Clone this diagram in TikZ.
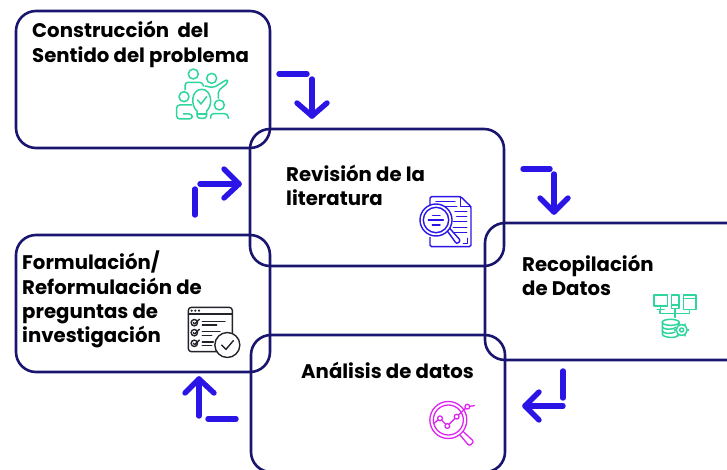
\documentclass[tikz,border=0pt]{standalone}
\usepackage{fontspec}
\setmainfont{Poppins}[BoldFont=* Bold]
\definecolor{boxblue}{HTML}{1A1670}
\definecolor{arrowblue}{HTML}{2A14E6}
\definecolor{teal}{HTML}{2ED69C}
\definecolor{mag}{HTML}{DE24F2}
\definecolor{icondark}{HTML}{23232B}
\tikzset{
  boxnode/.style={draw=boxblue,line width=2.6pt,rounded corners=20pt,minimum width=#1,inner sep=0pt,outer sep=0pt,minimum height=137pt,anchor=north west},
  lab/.style={anchor=base west,inner sep=0pt,font=\bfseries\fontsize{19.7}{22}\selectfont,text=black},
  flow/.style={draw=arrowblue,line width=5.4pt,line cap=round,line join=round},
  tealic/.style={draw=teal,line width=1.5pt,line join=round,line cap=round},
  blueic/.style={draw=arrowblue,line width=1.4pt,line join=round,line cap=round},
  darkic/.style={draw=icondark,line width=1.4pt,line join=round,line cap=round},
  magic/.style={draw=mag,line width=1.3pt,line join=round,line cap=round},
}
\begin{document}
\begin{tikzpicture}[x=1pt,y=-1pt]
\useasboundingbox (0,0) rectangle (727,470);
\clip (0,0) rectangle (727,470);
% boxes
\node[boxnode=254pt] (boxA) at (16,11) {};
\node[boxnode=254pt] (boxB) at (250,129) {};
\node[boxnode=270pt] (boxC) at (485,223) {};
\node[boxnode=254pt] (boxD) at (251,335) {};
\node[boxnode=254pt] (boxE) at (16,235) {};
% text
\node[lab] (t1) at (32,38) {Construcción\ \ del};
\node[lab] (t2) at (32,63) {Sentido del problema};
\node[lab] (t3) at (286,182) {Revisión de la};
\node[lab] (t4) at (286,206) {literatura};
\node[lab] (t5) at (522,271) {Recopilación};
\node[lab] (t6) at (522,295) {de Datos};
\node[lab] (t7) at (301,378) {Análisis de datos};
\node[lab] (t8) at (22,269) {Formulación/};
\node[lab] (t9) at (22,294) {Reformulación de};
\node[lab] (t10) at (22,318) {preguntas de};
\node[lab] (t11) at (22,342) {investigación};
% arrows
\coordinate (a1) at (279,74); \coordinate (a2) at (307,74);
\coordinate (a3) at (312,79); \coordinate (a4) at (312,116);
\coordinate (a5) at (297,103); \coordinate (a6) at (327,103);
\draw[flow] (a1)--(a2); \draw[flow] (a3)--(a4); \draw[flow] (a5)--(a4)--(a6);
\coordinate (b1) at (523,169); \coordinate (b2) at (550,169);
\coordinate (b3) at (554,174); \coordinate (b4) at (554,212);
\coordinate (b5) at (540,198); \coordinate (b6) at (568,198);
\draw[flow] (b1)--(b2); \draw[flow] (b3)--(b4); \draw[flow] (b5)--(b4)--(b6);
\coordinate (c1) at (563,371); \coordinate (c2) at (563,398);
\coordinate (c3) at (563,406); \coordinate (c4) at (525,406);
\coordinate (c5) at (539,392); \coordinate (c6) at (539,420);
\draw[flow] (c1)--(c2); \draw[flow] (c3)--(c4); \draw[flow] (c5)--(c4)--(c6);
\coordinate (d1) at (236,419); \coordinate (d2) at (208,419);
\coordinate (d3) at (199,416); \coordinate (d4) at (199,379);
\coordinate (d5) at (185,393); \coordinate (d6) at (214,393);
\draw[flow] (d1)--(d2); \draw[flow] (d3)--(d4); \draw[flow] (d5)--(d4)--(d6);
\coordinate (e1) at (195,215); \coordinate (e2) at (195,189);
\coordinate (e3) at (200,184); \coordinate (e4) at (239,184);
\coordinate (e5) at (224,169); \coordinate (e6) at (224,198);
\draw[flow] (e1)--(e2); \draw[flow] (e3)--(e4); \draw[flow] (e5)--(e4)--(e6);
% icon A: team and idea
\begin{scope}[shift={(150,50)},x=1/3*1pt,y=-1/3*1pt]
\draw[tealic] (130,72) circle[radius=15pt/3];
\draw[tealic] (185,85) circle[radius=15pt/3];
\draw[tealic] (102,140) circle[radius=15pt/3];
\draw[tealic] (208,165) circle[radius=15pt/3];
\draw[tealic,rounded corners=3pt] (105,120)--(105,97)--(158,97)--(160,108);
\draw[tealic,rounded corners=2pt] (165,108)--(190,113)--(232,88)--(234,98)--(205,122)--(205,145);
\draw[tealic,rounded corners=3pt] (125,165)--(80,165)--(80,207)--(127,207)--(127,192)--(100,192);
\draw[tealic] (141,183) .. controls (120,165) and (125,118) .. (155,118) .. controls (185,118) and (190,165) .. (170,183) -- (170,198) .. controls (170,208) and (141,208) .. (141,198) -- cycle;
\draw[tealic] (141,192)--(170,192);
\draw[tealic] (143,150)--(153,162)--(170,140);
\draw[tealic,rounded corners=3pt] (182,205)--(182,191)--(233,191)--(235,205);
\end{scope}
% icon B: document and magnifier
\begin{scope}[shift={(400,150)},x=1/3*1pt,y=-1/3*1pt]
\draw[blueic,rounded corners=1.5pt] (90,165)--(90,140)--(182,140)--(213,170)--(213,290)--(90,290)--(90,262);
\draw[blueic] (182,140)--(182,170)--(213,170);
\draw[blueic] (108,155)--(165,155);
\draw[blueic] (130,170)--(170,170);
\draw[blueic] (165,185)--(200,185);
\draw[blueic] (170,200)--(200,200);
\draw[blueic] (160,215)--(200,215);
\draw[blueic] (160,232)--(200,232);
\draw[blueic] (160,248)--(200,248);
\draw[blueic] (190,280)--(203,280)--(203,265);
\draw[blueic,fill=white] (108,210) circle[radius=16pt];
\draw[blueic] (108,210) circle[radius=12.7pt];
\draw[blueic] (98,197)--(120,197);
\draw[blueic] (85,210)--(130,210);
\draw[blueic] (97,225)--(120,225);
\draw[blueic,rounded corners=2pt] (142,243)--(170,282)--(182,272)--(150,236);
\end{scope}
% icon E: checklist
\begin{scope}[shift={(170,290)},x=1/3*1pt,y=-1/3*1pt]
\draw[darkic,rounded corners=3pt] (55,52) rectangle (187,185);
\draw[darkic] (55,72)--(187,72);
\fill[icondark] (65,62) circle[radius=1.2pt] (76,62) circle[radius=1.2pt] (87,62) circle[radius=1.2pt];
\foreach \yy in {98,128,160}{
  \draw[darkic] (73,\yy) circle[radius=3.2pt];
  \draw[darkic] (70,\yy)--(74,\yy+4)--(88,\yy-10);
}
\draw[darkic] (97,94)--(165,94);
\draw[darkic] (97,105)--(140,105);
\draw[darkic] (97,124)--(150,124);
\draw[darkic] (97,136)--(125,136);
\draw[darkic] (97,156)--(130,156);
\draw[darkic] (97,167)--(125,167);
\draw[darkic,fill=white] (172,165) circle[radius=12.5pt];
\draw[darkic] (155,165)--(168,178)--(190,152);
\end{scope}
% icon D: magnifier with chart
\begin{scope}[shift={(410,360)},x=1/3*1pt,y=-1/3*1pt]
\draw[magic] (115,180) circle[radius=18.5pt];
\draw[magic] (115,180) circle[radius=15pt];
\draw[magic,rounded corners=2pt] (150,225)--(178,258)--(192,245)--(160,215);
\draw[magic] (90,175)--(112,198)--(140,170)--(172,140)--(193,137);
\draw[magic] (72,190)--(90,175);
\foreach \p in {(90,175),(112,198),(140,170),(172,140)}{
  \draw[magic,fill=white] \p circle[radius=2.4pt];
}
\end{scope}
% icon C: devices and database
\begin{scope}[shift={(640,280)},x=1/3*1pt,y=-1/3*1pt]
\draw[tealic] (42,45) rectangle (82,78);
\draw[tealic] (62,78)--(62,88) (52,88)--(72,88);
\draw[tealic] (95,45) rectangle (117,85);
\draw[tealic] (95,75)--(117,75);
\draw[tealic] (130,45) rectangle (168,88);
\draw[tealic] (130,56)--(168,56);
\draw[tealic] (60,92)--(60,100)--(148,100)--(148,92);
\draw[tealic] (105,88)--(105,112);
\draw[tealic] (92,127) ellipse[x radius=8.5pt,y radius=3pt];
\draw[tealic] (67,127)--(67,162) .. controls (67,175) and (117,175) .. (112,165);
\draw[tealic] (117,127)--(117,132);
\draw[tealic] (67,140) .. controls (67,150) and (100,150) .. (108,142);
\draw[tealic] (67,152) .. controls (67,162) and (95,162) .. (105,156);
\draw[tealic] (125,150) circle[radius=5.5pt];
\draw[tealic] (125,150) circle[radius=2pt];
\foreach \a in {0,60,...,300}{
  \draw[tealic] (125,150) ++(\a:5.5pt) -- ++(\a:1.5pt);
}
\end{scope}
\end{tikzpicture}
\end{document}
